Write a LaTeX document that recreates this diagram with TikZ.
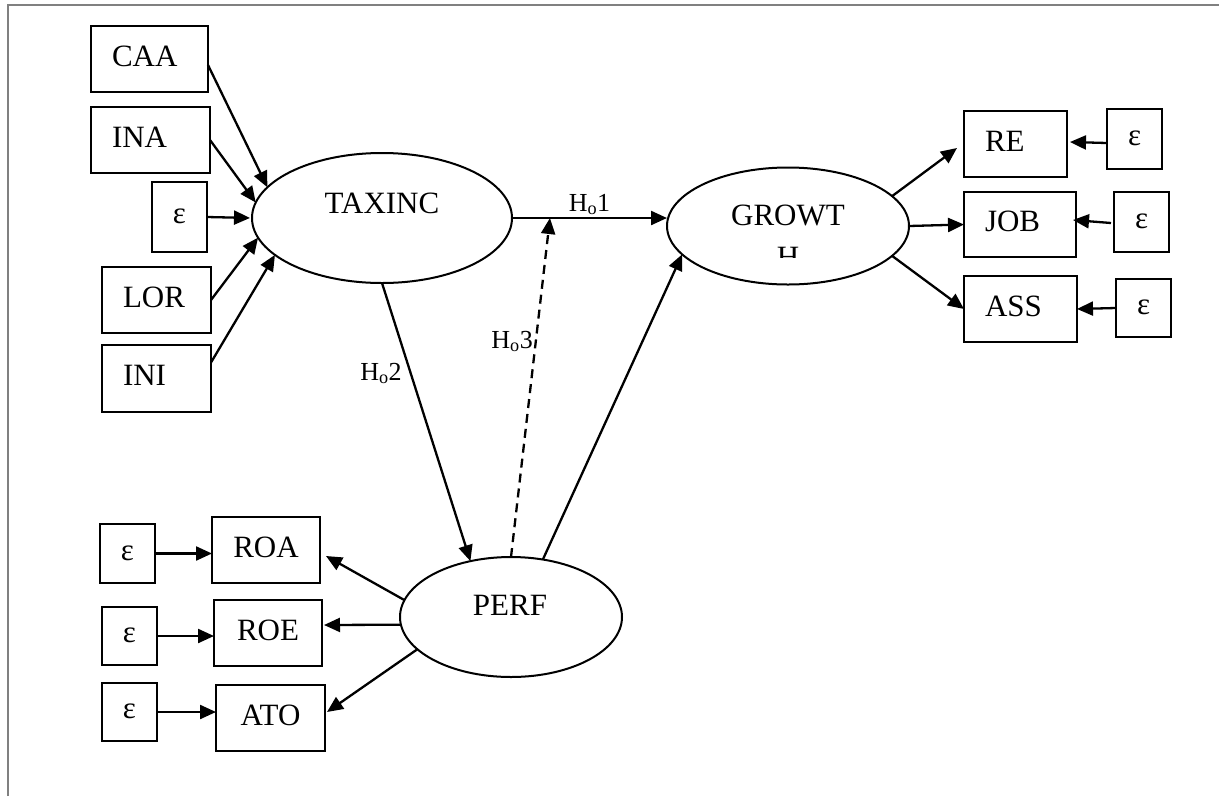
\documentclass[tikz,border=0pt]{standalone}
\usepackage{fontspec}
\setmainfont{Liberation Serif}
\usetikzlibrary{arrows.meta,shapes.geometric}
\definecolor{framegray}{RGB}{128,128,128}
\begin{document}
\begin{tikzpicture}[x=1pt,y=-1pt,
  every node/.style={outer sep=0pt},
  box/.style={draw, line width=2pt, rectangle, inner sep=0pt, font=\fontsize{31}{37}\selectfont, text depth=6pt},
  lbox/.style 2 args={box, align=left, text width=#1, inner xsep=21pt, minimum height=#2},
  cbox/.style 2 args={box, align=center, minimum width=#1, minimum height=#2},
  ebox/.style 2 args={cbox={#1}{#2}, text depth=1pt},
  ell/.style={draw, line width=2pt, ellipse, inner sep=0pt},
  txt/.style={inner sep=0pt, font=\fontsize{31}{37}\selectfont},
  hlbl/.style={inner sep=2pt, font=\fontsize{26}{31}\selectfont},
  arr/.style={line width=2.3pt, -{Triangle[length=16pt,width=14pt]}},
  dsh/.style={dash pattern=on 9pt off 6pt}
]
\useasboundingbox (0,0) rectangle (1219,796);
% frame
\draw[framegray, line width=2.2pt] (8,796) -- (8,5) -- (1219,5);

% left indicators
\node[lbox={75pt}{66pt}] (caa) at (149.5,59) {CAA};
\node[lbox={77pt}{66pt}] (ina) at (150.5,140) {INA};
\node[ebox={55pt}{70pt}] (epsl) at (179.5,217) {ε};
\node[lbox={67pt}{66pt}] (lor) at (156.5,300) {LOR};
\node[lbox={67pt}{67pt}] (ini) at (156.5,378.5) {INI};

% right indicators
\node[lbox={61pt}{66pt}] (re) at (1015.5,144) {RE};
\node[lbox={70pt}{65pt}] (job) at (1020,224.5) {JOB};
\node[lbox={71pt}{66pt}] (ass) at (1020.5,309) {ASS};
\node[ebox={55pt}{60pt}] (epsre) at (1134.5,139) {ε};
\node[ebox={55pt}{60pt}] (epsjob) at (1141.5,222) {ε};
\node[ebox={55pt}{58pt}] (epsass) at (1143.5,308) {ε};

% bottom-left indicators
\node[cbox={108pt}{66pt}] (roa) at (266,550) {ROA};
\node[cbox={108pt}{66pt}] (roe) at (268,633) {ROE};
\node[cbox={109pt}{66pt}] (ato) at (270.5,718) {ATO};
\node[ebox={55pt}{59pt}] (epsroa) at (127.5,553.5) {ε};
\node[ebox={55pt}{58pt}] (epsroe) at (129.5,636) {ε};
\node[ebox={55pt}{58pt}] (epsato) at (129.5,712) {ε};

% latent variables
\node[ell, minimum width=260pt, minimum height=130pt] (taxinc) at (382,218) {};
\node[txt] (taxinct) at (382,203) {TAXINC};
\node[ell, minimum width=242pt, minimum height=117pt] (growth) at (788,226) {};
\begin{scope}
  \clip (650,150) rectangle (930,257);
  \node[txt] (growtht) at (788,215) {GROWT};
  \node[txt] (growthh) at (788,257) {H};
\end{scope}
\node[ell, minimum width=222pt, minimum height=120pt] (perf) at (511,617) {};
\node[txt] (perft) at (510,605) {PERF};

% arrows into TAXINC
\draw[arr] ([yshift=-6pt]caa.east) -- (taxinc.165);
\draw[arr] (ina.east) -- (taxinc.173);
\draw[arr, shorten >=2pt] (epsl.east) -- (taxinc.west);
\draw[arr] (lor.east) -- (taxinc.189);
\draw[arr] ([yshift=16pt]ini.east) -- (taxinc.199);

% structural paths
\draw[arr] (taxinc.east) -- coordinate[pos=0.245] (h3) node[midway, above=1pt, hlbl] {H\textsubscript{o}1} (taxinc.east -| growth.west);
\draw[arr, dsh] (perf.north) -- node[pos=0.636, left=1pt, hlbl] {H\textsubscript{o}3} (h3);
\draw[arr] (taxinc.south) -- node[pos=0.325, left=7pt, hlbl] {H\textsubscript{o}2} (perf.126);
\draw[arr] (perf.61) -- (growth.195);

% GROWTH indicators
\draw[arr] (growth.16) -- ([xshift=-7pt,yshift=-4pt]re.west);
\draw[arr] (growth.east) -- (job.west);
\draw[arr] (growth.-16) -- (ass.west);
\draw[arr] ([yshift=-4pt]epsre.west) -- ([xshift=3pt,yshift=2pt]re.east);
\draw[arr] ([xshift=-3pt,yshift=-1pt]epsjob.west) -- ([xshift=-3pt,yshift=4.5pt]job.east);
\draw[arr] (epsass.west) -- (ass.east);

% PERF indicators
\draw[arr] (epsroa.east) -- (epsroa.east -| roa.west);
\draw[arr] (epsroe.east) -- (epsroe.east -| roe.west);
\draw[arr] (epsato.east) -- (epsato.east -| ato.west);
\draw[arr] (perf.171) -- ([xshift=6pt,yshift=-6pt]roa.east);
\draw[arr] (perf.184) -- ([xshift=2pt,yshift=8pt]roe.east);
\draw[arr] (perf.199) -- ([xshift=2pt,yshift=6pt]ato.east);
\end{tikzpicture}
\end{document}
